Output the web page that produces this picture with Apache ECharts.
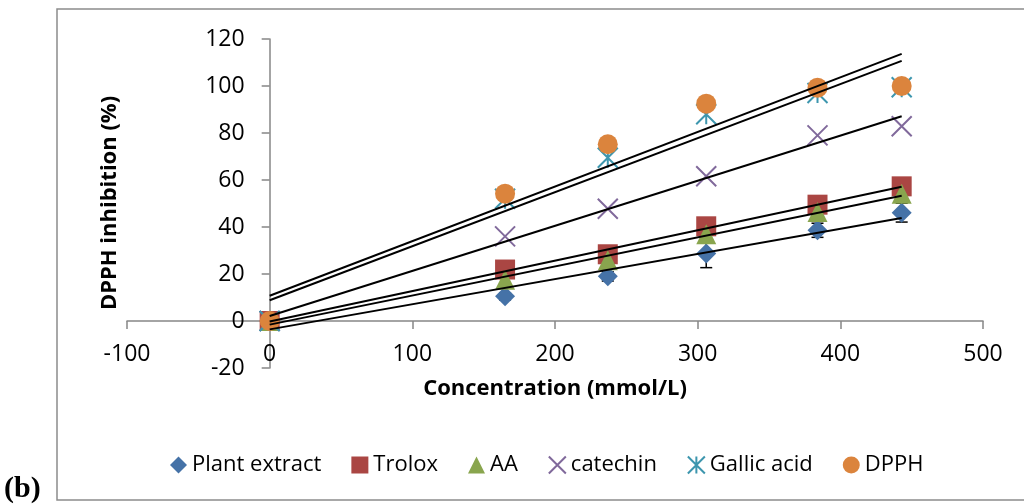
<!DOCTYPE html>
<html>
<head>
<meta charset="utf-8">
<script src="https://cdn.jsdelivr.net/npm/echarts@6/dist/echarts.min.js"></script>
<style>
html,body{margin:0;padding:0;background:#fff;}
#chart{width:1024px;height:504px;}
</style>
</head>
<body>
<div id="chart"></div>
<script>
// ---- data ----
const seriesNames = ['Plant extract', 'Trolox', 'AA', 'catechin', 'Gallic acid', 'DPPH'];
const xValues = [0, 165, 237, 306, 384, 443];
const plantExtract = [0, 10.5, 19, 28.7, 38.6, 46.1];
const plantExtractErr = [0, 1.5, 2, 6, 3, 4];
const trolox = [0, 21.9, 28.4, 40.3, 49.5, 57.3];
const aa = [0, 17.6, 25.8, 36.9, 46.4, 54.2];
const catechin = [0, 36, 47.8, 61.6, 79, 82.9];
const gallicAcid = [0, 52, 69.5, 88, 97, 99.5];
const dpph = [0, 54.2, 75.2, 92.5, 99.3, 100];
const xTicks = { min: -100, max: 500, interval: 100 };
const yTicks = { min: -20, max: 120, interval: 20 };

// ---- styling ----
const colors = ['#4572A7', '#AA4643', '#89A54E', '#80699B', '#3D96AE', '#DB843D'];
const FONT = '"Open Sans", "Liberation Sans", sans-serif';
const xPath = 'path://M0,0 L20,20 M20,0 L0,20';
const starPath = 'path://M0,0 L20,20 M20,0 L0,20 M10,0 L10,20';
const symbols = ['diamond', 'rect', 'triangle', xPath, starPath, 'circle'];
const allY = [plantExtract, trolox, aa, catechin, gallicAcid, dpph];

const G = { left: 127, top: 39, width: 856, height: 329 };
// place axes where the other axis is zero (labels follow the line)
const xAxisOffset = -G.height * (0 - yTicks.min) / (yTicks.max - yTicks.min);
const yAxisOffset = -G.width * (0 - xTicks.min) / (xTicks.max - xTicks.min);

function pairs(ys) { return xValues.map((x, i) => [x, ys[i]]); }
function linReg(ys) {
  const n = xValues.length;
  const mx = xValues.reduce((a, b) => a + b, 0) / n;
  const my = ys.reduce((a, b) => a + b, 0) / n;
  let sxy = 0, sxx = 0;
  for (let i = 0; i < n; i++) { sxy += (xValues[i] - mx) * (ys[i] - my); sxx += (xValues[i] - mx) ** 2; }
  const m = sxy / sxx, b = my - m * mx;
  const x0 = Math.min(...xValues), x1 = Math.max(...xValues);
  return [[x0, b + m * x0], [x1, b + m * x1]];
}

const series = [];
series.push({
  type: 'custom', name: 'err', silent: true, z: 1,
  data: xValues.map((x, i) => [x, plantExtract[i], plantExtractErr[i]]),
  renderItem: function (params, api) {
    const x = api.value(0), y = api.value(1), e = api.value(2);
    if (!e) return null;
    const top = api.coord([x, y + e]), bot = api.coord([x, y - e]);
    const w = 6;
    const st = { stroke: '#000', lineWidth: 1.5 };
    return { type: 'group', children: [
      { type: 'line', shape: { x1: top[0], y1: top[1], x2: bot[0], y2: bot[1] }, style: st },
      { type: 'line', shape: { x1: top[0] - w, y1: top[1], x2: top[0] + w, y2: top[1] }, style: st },
      { type: 'line', shape: { x1: bot[0] - w, y1: bot[1], x2: bot[0] + w, y2: bot[1] }, style: st }
    ]};
  }
});
allY.forEach((ys, i) => {
  const lineSym = i === 3 || i === 4;
  series.push({
    type: 'scatter', name: seriesNames[i], z: 2,
    symbol: symbols[i], symbolSize: 20,
    itemStyle: lineSym
      ? { color: 'rgba(0,0,0,0)', borderColor: colors[i], borderWidth: 2, opacity: 1 }
      : { color: colors[i], opacity: 1 },
    data: pairs(ys)
  });
});
allY.forEach((ys) => {
  series.push({
    type: 'line', silent: true, z: 5, symbol: 'none',
    lineStyle: { color: '#000', width: 2 },
    data: linReg(ys)
  });
});

const axisLine = { onZero: false, lineStyle: { color: '#868686', width: 1.5 } };
const axisTick = { show: true, inside: false, length: 8, lineStyle: { color: '#868686', width: 1.5 } };

const chart = echarts.init(document.getElementById('chart'), null, { renderer: 'canvas' });
chart.setOption({
  animation: false,
  backgroundColor: '#fff',
  grid: { left: G.left, top: G.top, width: G.width, height: G.height, containLabel: false, outerBoundsMode: 'none' },
  xAxis: {
    type: 'value', position: 'bottom', offset: xAxisOffset,
    min: xTicks.min, max: xTicks.max, interval: xTicks.interval,
    axisLine: axisLine, axisTick: axisTick, splitLine: { show: false },
    axisLabel: { color: '#000', fontSize: 23, fontFamily: FONT, margin: 22 }
  },
  yAxis: {
    type: 'value', position: 'left', offset: yAxisOffset,
    min: yTicks.min, max: yTicks.max, interval: yTicks.interval,
    axisLine: axisLine, axisTick: axisTick, splitLine: { show: false },
    axisLabel: { color: '#000', fontSize: 23, fontFamily: FONT, margin: 25 }
  },
  legend: {
    data: seriesNames.map((n) => ({ name: n })),
    left: 165, top: 449, itemWidth: 17, itemHeight: 17, itemGap: 30,
    textStyle: { color: '#000', fontSize: 22, fontFamily: FONT }
  },
  graphic: [
    { type: 'rect', silent: true, shape: { x: 57, y: 9, width: 1000, height: 491 },
      style: { fill: 'none', stroke: '#8c8c8c', lineWidth: 1.5 } },
    { type: 'text', x: 555, y: 389, silent: true,
      style: { text: 'Concentration (mmol/L)', font: 'bold 22px ' + FONT, fill: '#000', textAlign: 'center', textVerticalAlign: 'middle' } },
    { type: 'text', x: 110, y: 203, rotation: Math.PI / 2, silent: true,
      style: { text: 'DPPH inhibition (%)', font: 'bold 22px ' + FONT, fill: '#000', textAlign: 'center', textVerticalAlign: 'middle' } },
    { type: 'text', x: 4, y: 489, silent: true,
      style: { text: '(b)', font: 'bold 30px "Liberation Serif", serif', fill: '#000', textAlign: 'left', textVerticalAlign: 'middle' } }
  ],
  series: series
});
</script>
</body>
</html>
